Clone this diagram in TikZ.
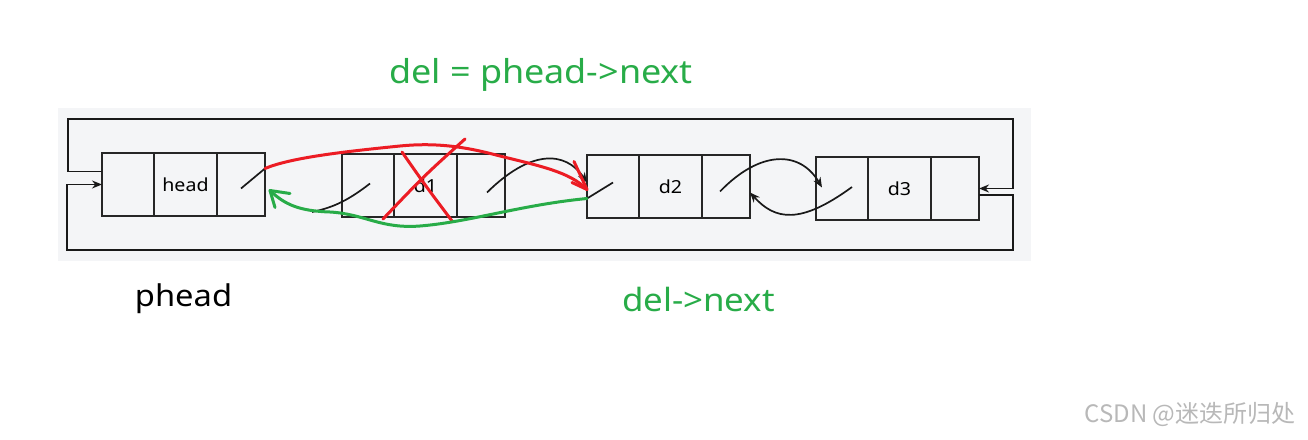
\documentclass[tikz,border=0pt]{standalone}
\usepackage{fontspec}
\setmainfont[FakeStretch=1.09]{Noto Sans}
\newfontfamily\cjkfont{Noto Sans CJK SC}
\usetikzlibrary{positioning,arrows.meta}
\definecolor{panel}{RGB}{244,245,247}
\definecolor{markgreen}{RGB}{40,172,72}
\definecolor{markred}{RGB}{236,28,36}
\tikzset{
  cell/.style={draw=black!85,line width=1.8pt,outer sep=0pt,inner sep=0pt,
    minimum height=63pt,font=\fontsize{18}{18}\selectfont},
  ptr/.style={black!90,line width=1.7pt},
  pen/.style={line width=3pt,line cap=round,line join=round},
}
\begin{document}
\begin{tikzpicture}[x=1pt,y=-1pt,>={Stealth[length=10pt,width=8pt]}]
    \useasboundingbox (0,0) rectangle (1308,439);
    \fill[panel] (58,108) rectangle (1031,261);
    % ---- list nodes : prev | data | next ----
    \foreach \nm/\x/\y/\lab in {h/102/153/head, d1/342/154/d1, d2/587/155/d2, d3/816/157/d3}{
      \node[cell,minimum width=52pt,anchor=north west] (\nm-p) at (\x,\y) {};
      \node[cell,minimum width=63pt,right=0pt of \nm-p] (\nm) {\lab};
      \node[cell,minimum width=48pt,right=0pt of \nm] (\nm-n) {};
    }
    % ---- circular links ----
    \coordinate (ltop) at ([yshift=13pt]h-p.west);
    \coordinate (rbot) at ([yshift=-6.5pt]d3-n.east);
    \draw[ptr,->] (ltop) -| (68,119) -- (1013,119) |- (d3-n.east);
    \draw[ptr,->] (rbot) -| (1013,250) -- (67,250) |- (h-p.west);
    % ---- next / prev pointers ----
    \draw[ptr] ([yshift=-4pt]h-n.center) -- ([yshift=16pt]h-n.east);
    \draw[ptr] ([xshift=2pt,yshift=2pt]d1-p.center) .. controls (345,203) and (330,208) .. (312,212);
    \draw[ptr,->] ([xshift=6pt,yshift=-7pt]d1-n.center) .. controls (530,150) and (565,150) .. ([yshift=4pt]d2-p.west);
    \draw[ptr] ([yshift=4pt]d2-p.center) -- ([yshift=-12pt]d2-p.west);
    \draw[ptr,->] ([xshift=-6pt,yshift=-5pt]d2-n.center) .. controls (760,150) and (800,150) .. ([xshift=6pt,yshift=1pt]d3-p.west);
    \draw[ptr,->] ([xshift=10pt,yshift=1.5pt]d3-p.center) .. controls (800,225) and (775,220) .. ([yshift=-6pt]d2-n.east);
    % ---- red : new next link, d1 crossed out ----
    \draw[pen,markred] ([yshift=16pt]h-n.east) .. controls (290,158) and (340,152) .. (400,146)
      .. controls (440,142) and (470,148) .. (500,156)
      .. controls (540,166) and (570,172) .. ([yshift=-3pt]d2-p.west) coordinate (redtip);
    \draw[pen,markred] (redtip) -- ++(-13,-28) (redtip) -- ++(-15,-7);
    \draw[pen,markred] (402,152) .. controls (425,185) .. (452,221);
    \draw[pen,markred] (465,139) .. controls (425,175) .. (383,219);
    % ---- green : new prev link ----
    \draw[pen,markgreen] ([yshift=-12pt]d2-p.west) .. controls (520,205) and (470,222) .. (420,226)
      .. controls (380,229) and (365,214) .. (330,212)
      .. controls (300,211) and (285,205) .. ([xshift=5pt,yshift=-6pt]h-n.east) coordinate (greentip);
    \draw[pen,markgreen] (greentip) -- ++(20,3) (greentip) -- ++(5,17);
    % ---- labels ----
    \node[font=\fontsize{33}{33}\selectfont,text=markgreen,anchor=base] (title) at (541,83) {del = phead->next};
    \node[font=\fontsize{30}{30}\selectfont,anchor=base] (phead) at (183.5,306) {phead};
    \node[font=\fontsize{32}{32}\selectfont,text=markgreen,anchor=base] (delnext) at (698.5,311) {del->next};
    \node[font=\cjkfont\fontsize{24}{24}\selectfont,text=black!28,anchor=base] (mark) at (1190,422) {CSDN @迷迭所归处};
\end{tikzpicture}
\end{document}
